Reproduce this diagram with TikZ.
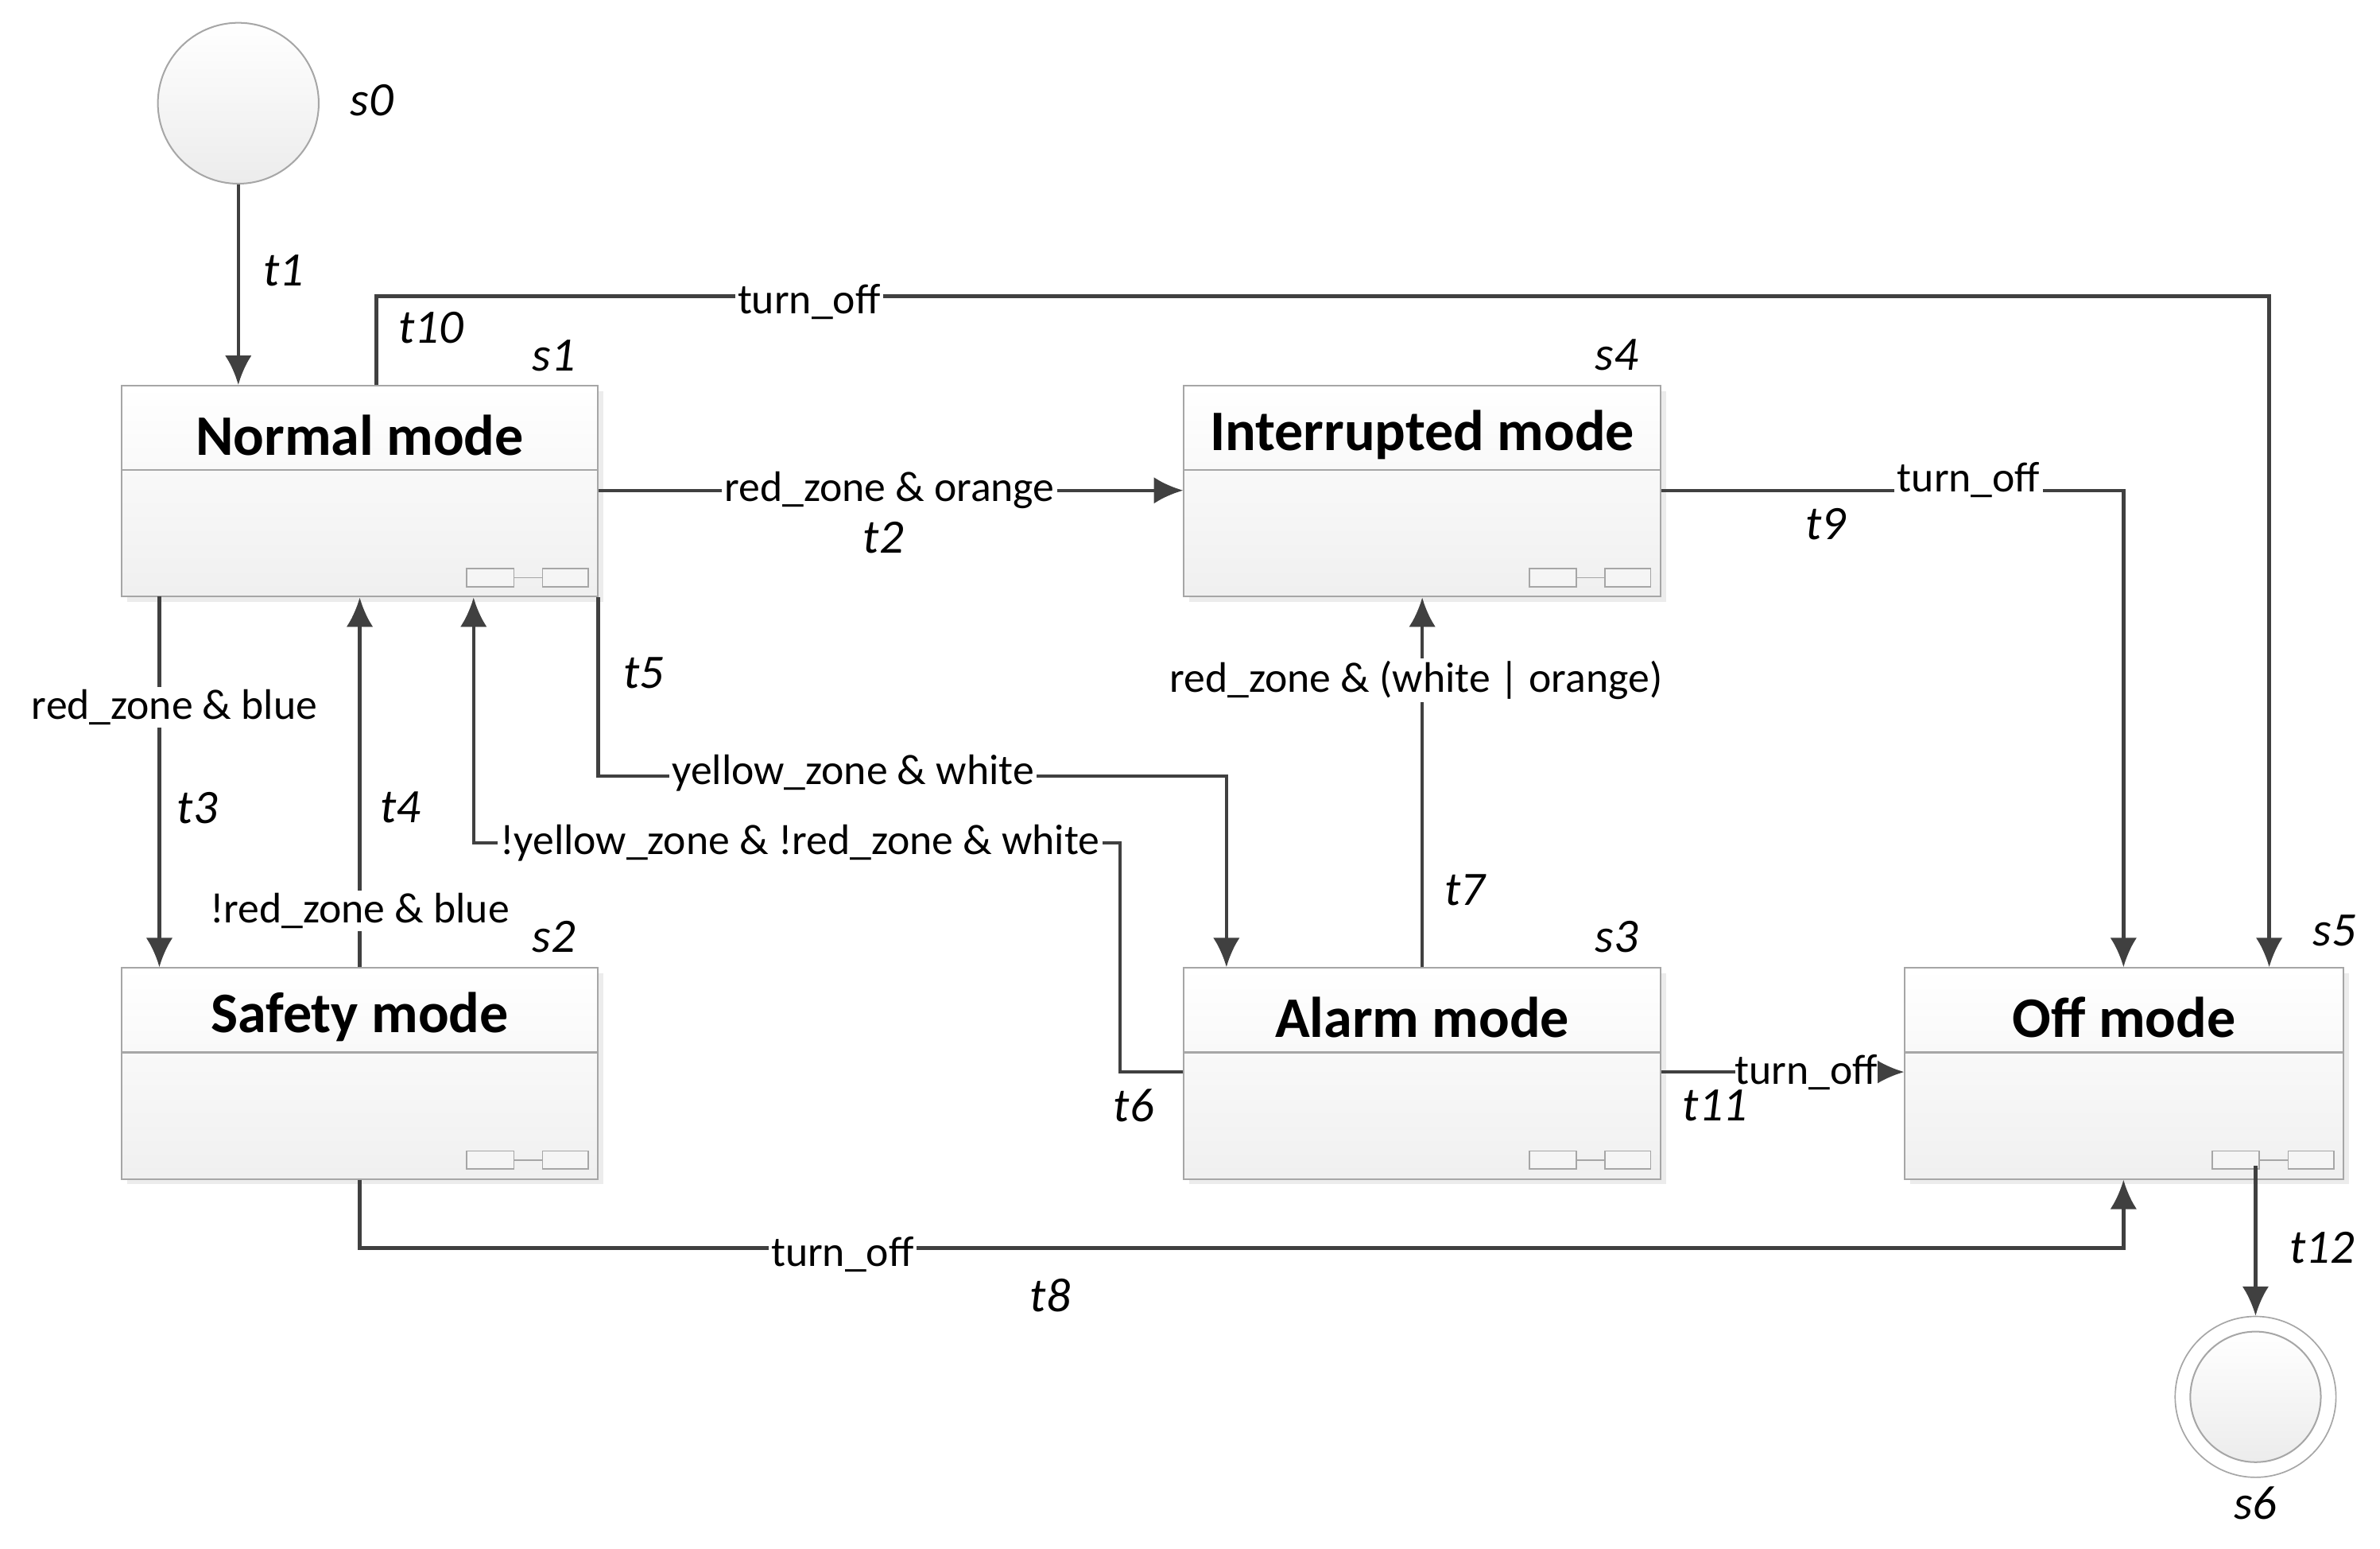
\documentclass[tikz,border=0pt]{standalone}
\usepackage{fontspec}
\setmainfont{Carlito}
\usetikzlibrary{shadows,arrows.meta}
\begin{document}
\begin{tikzpicture}[
    x=0.02cm, y=-0.02cm,
    state/.style={rectangle,draw=gray!70,line width=0.6pt,top color=white,bottom color=gray!12,
        minimum width=6.28cm,minimum height=2.78cm,inner sep=0pt,
        drop shadow={shadow xshift=2pt,shadow yshift=-2pt,opacity=0.15}},
    title/.style={font=\bfseries\fontsize{21.5}{24}\selectfont},
    term/.style={circle,draw=gray!70,line width=0.6pt,top color=white,bottom color=gray!15,
        minimum size=2.12cm,inner sep=0pt},
    tname/.style={font=\itshape\fontsize{18}{20}\selectfont},
    guard/.style={fill=white,inner sep=1pt,font=\fontsize{16}{18}\selectfont},
    tr/.style={->,draw=black!75,line width=1.3pt},
    >={Latex[length=11pt,width=10pt]}
]
    \useasboundingbox (0,0) rectangle (1568,1020);
    % States
    \node[term] (s0) at (157,68) {};
    \node[state] (s1) at (237,323.5) {};
    \node[state] (s4) at (937,323.5) {};
    \node[state] (s2) at (237,707) {};
    \node[state] (s3) at (937,707) {};
    \node[state,minimum width=5.78cm] (s5) at (1399.5,707) {};
    \node[circle,draw=gray!70,line width=0.5pt,minimum size=2.12cm,inner sep=0pt] (s6) at (1486,920) {};
    \node[term,minimum size=1.72cm] (s6in) at (s6) {};

    % Headers and icons
    \foreach \s/\t in {s1/Normal mode,s4/Interrupted mode,s2/Safety mode,s3/Alarm mode,s5/Off mode} {
        \draw[gray!70,line width=0.8pt] ([yshift=-1.12cm]\s.north west) -- ([yshift=-1.12cm]\s.north east);
        \node[title] at ([yshift=-0.66cm]\s.north) {\t};
        \draw[gray!70,line width=0.5pt,fill=gray!8] ([xshift=-1.74cm,yshift=0.14cm]\s.south east) rectangle ++(0.62cm,0.24cm);
        \draw[gray!70,line width=0.5pt,fill=gray!8] ([xshift=-0.74cm,yshift=0.14cm]\s.south east) rectangle ++(0.6cm,0.24cm);
        \draw[gray!70,line width=0.5pt] ([xshift=-1.12cm,yshift=0.26cm]\s.south east) -- ++(0.38cm,0);
    }

    % State names
    \node[tname] at (245,66) {s0};
    \node[tname] at (365,234) {s1};
    \node[tname] at (1065,234) {s4};
    \node[tname] at (365,617) {s2};
    \node[tname] at (1065,617) {s3};
    \node[tname] at (1538,613) {s5};
    \node[tname] at (1486,990) {s6};

    % Bend points
    \coordinate (b10a) at (248,195);
    \coordinate (b10b) at (1495,195);
    \coordinate (b9) at (1399,323);
    \coordinate (b5a) at (394,511);
    \coordinate (b5b) at (808,511);
    \coordinate (b6a) at (738,706);
    \coordinate (b6b) at (738,555);
    \coordinate (b6c) at (312,555);
    \coordinate (b8a) at (237,822);
    \coordinate (b8b) at (1399,822);

    % Transitions
    \draw[tr] (s0) -- (s0 |- s1.north);
    \draw[tr] (b10a |- s1.north) -- (b10a) -- (b10b) -- (b10b |- s5.north);
    \draw[tr] (s1.east |- b9) -- (s4.west |- b9);
    \draw[tr] (s4.east |- b9) -- (b9) -- (b9 |- s5.north);
    \draw[tr] (105,393) -- (105,637);
    \draw[tr] (s2.north) -- (s1.south);
    \draw[tr] (b5a |- s1.south) -- (b5a) -- (b5b) -- (b5b |- s3.north);
    \draw[tr] (s3.west |- b6a) -- (b6a) -- (b6b) -- (b6c) -- (b6c |- s1.south);
    \draw[tr] (s3.north) -- (s4.south);
    \draw[tr] (s3.east |- b6a) -- (s5.west |- b6a);
    \draw[tr] (s2.south) -- (b8a) -- (b8b) -- (b8b |- s5.south);
    \draw[tr] (1486,768) -- (s6.north);

    % Guards
    \node[guard] at (533,199) {turn\_off};
    \node[guard] at (586,323) {red\_zone \& orange};
    \node[guard] at (1297,316) {turn\_off};
    \node[guard] at (115,466) {red\_zone \& blue};
    \node[guard] at (237,600) {!red\_zone \& blue};
    \node[guard] at (562,509) {yellow\_zone \& white};
    \node[guard] at (527,555) {!yellow\_zone \& !red\_zone \& white};
    \node[guard] at (933,448) {red\_zone \& (white | orange)};
    \node[guard,inner sep=0pt] at (1190,706) {turn\_off};
    \node[guard] at (555,826) {turn\_off};

    % Transition names
    \node[tname] at (187,178) {t1};
    \node[tname] at (284,216) {t10};
    \node[tname] at (582,354) {t2};
    \node[tname] at (1203,345) {t9};
    \node[tname] at (130,532) {t3};
    \node[tname] at (264,532) {t4};
    \node[tname] at (424,443) {t5};
    \node[tname] at (747,728) {t6};
    \node[tname] at (965,586) {t7};
    \node[tname] at (1130,728) {t11};
    \node[tname] at (692,853) {t8};
    \node[tname] at (1530,822) {t12};
\end{tikzpicture}
\end{document}
